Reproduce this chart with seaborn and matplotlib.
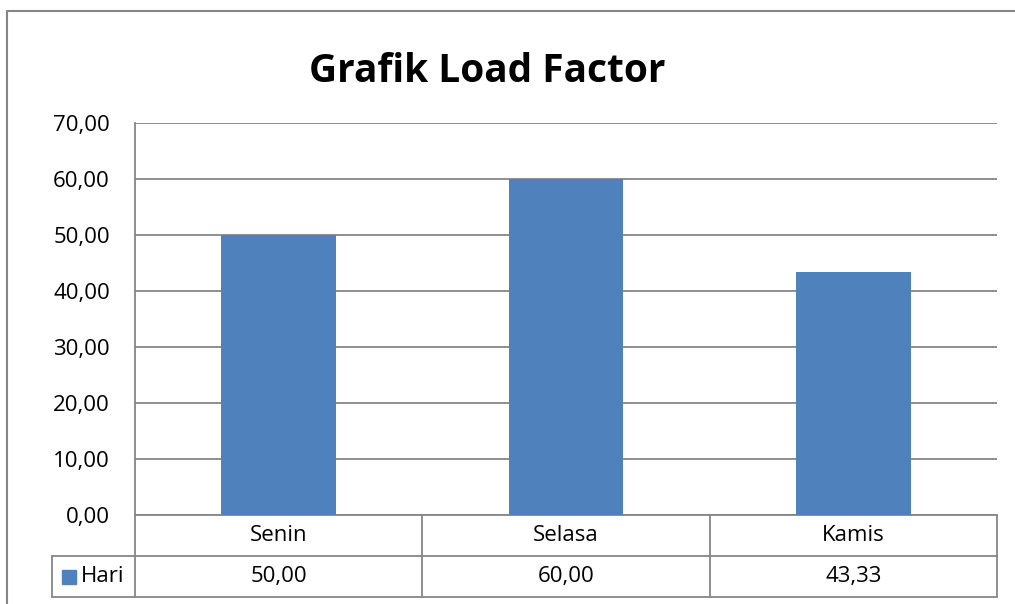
import numpy as np
import pandas as pd
import matplotlib
matplotlib.use("Agg")
import matplotlib.pyplot as plt
import matplotlib.patches as mpatches
import seaborn as sns

hari = ["Senin", "Selasa", "Kamis"]
load_factor = [50.00, 60.00, 43.33]
series_name = "Hari"
y_ticks = [0, 10, 20, 30, 40, 50, 60, 70]

bar_color = "#4F81BD"
line_color = "#868686"

sns.set_style("white")
plt.rcParams["font.family"] = ["Open Sans", "DejaVu Sans"]
plt.rcParams["text.color"] = "black"
plt.rcParams["ytick.color"] = "black"

df = pd.DataFrame({"Hari": hari, "Load Factor": load_factor})

fig = plt.figure(figsize=(10.15, 6.04), dpi=100)
ax = fig.add_axes([135 / 1015, 1 - 515 / 604, 862 / 1015, 392 / 604])

sns.barplot(data=df, x="Hari", y="Load Factor", color=bar_color, width=0.4,
            saturation=1, linewidth=0, ax=ax, zorder=3)

fs = 16
ax.set_ylim(0, 70)
ax.set_yticks(y_ticks)
ax.set_yticklabels([f"{v:.2f}".replace(".", ",") for v in y_ticks], fontsize=fs)
ax.tick_params(axis="y", length=0, pad=18)
ax.set_xticks([])
ax.set_xlabel("")
ax.set_ylabel("")
ax.set_xlim(-0.5, len(hari) - 0.5)
ax.grid(axis="y", color=line_color, linewidth=1.3, zorder=0)
for side in ["top", "right", "bottom"]:
    ax.spines[side].set_visible(False)
ax.spines["left"].set_color(line_color)
ax.spines["left"].set_linewidth(1.3)

# data table under the plot (axes coordinates)
row_h = 41 / 392
leg_x = (52 - 135) / 862
n = len(hari)
lw = 1.3
kw = dict(transform=ax.transAxes, clip_on=False, color=line_color, lw=lw)
# horizontal lines
ax.plot([0, 1], [0, 0], **kw)
ax.plot([leg_x, 1], [-row_h, -row_h], **kw)
ax.plot([leg_x, 1], [-2 * row_h, -2 * row_h], **kw)
# vertical lines
for i in range(n + 1):
    ax.plot([i / n, i / n], [0, -2 * row_h], **kw)
ax.plot([leg_x, leg_x], [-row_h, -2 * row_h], **kw)

for i, (h, v) in enumerate(zip(hari, load_factor)):
    cx = (i + 0.5) / n
    ax.text(cx, -0.5 * row_h, h, transform=ax.transAxes, ha="center",
            va="center", fontsize=fs)
    ax.text(cx, -1.5 * row_h, f"{v:.2f}".replace(".", ","),
            transform=ax.transAxes, ha="center", va="center", fontsize=fs)

# legend key in table
ax.add_patch(mpatches.Rectangle((leg_x + 10 / 862, -1.5 * row_h - 7 / 392),
                                14 / 862, 14 / 392, transform=ax.transAxes,
                                clip_on=False, color=bar_color))
ax.text(leg_x + 29 / 862, -1.5 * row_h, series_name, transform=ax.transAxes,
        ha="left", va="center", fontsize=fs)

fig.text(487 / 1015, 1 - 72 / 604, "Grafik Load Factor", ha="center",
         va="center", fontsize=28, fontweight="bold")

# outer chart frame
fig.patches.append(mpatches.Rectangle((7 / 1015, -0.1), 1.2, 1 - 11 / 604 + 0.1,
                                      transform=fig.transFigure, fill=False,
                                      edgecolor=line_color, lw=1.5))

fig.savefig("out.png", dpi=100)
